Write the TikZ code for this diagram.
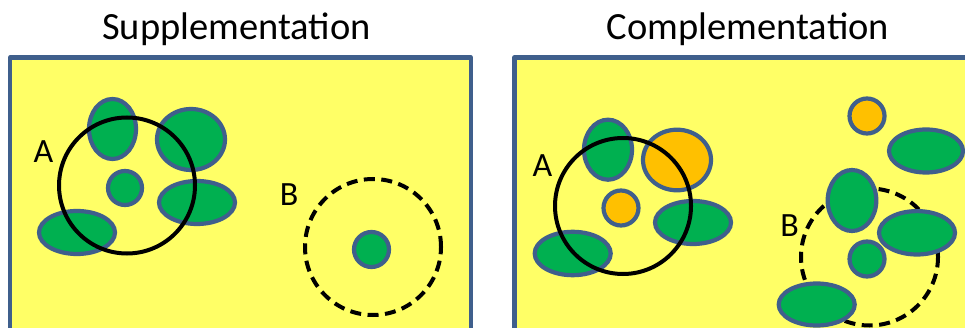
\documentclass[tikz,border=0pt]{standalone}
\usepackage{fontspec}
\setmainfont{Carlito}
\definecolor{panelfill}{HTML}{FFFF66}
\definecolor{panelline}{HTML}{3F5F8C}
\definecolor{blobgreen}{HTML}{00B050}
\definecolor{bloborange}{HTML}{FFC000}
\tikzset{
  panel/.style={fill=panelfill, draw=panelline, line width=4.2pt, line join=round},
  gblob/.style={fill=blobgreen, draw=panelline, line width=4.2pt},
  oblob/.style={fill=bloborange, draw=panelline, line width=4.2pt},
  solidring/.style={draw=black, line width=4pt},
  dashring/.style={draw=black, line width=4pt, dash pattern=on 11pt off 6.5pt},
  titletext/.style={font=\fontsize{38.5}{40}\selectfont, anchor=base, inner sep=0pt},
  labeltext/.style={font=\fontsize{34}{36}\selectfont, anchor=base, inner sep=0pt}
}
\begin{document}
\begin{tikzpicture}[x=1pt,y=-1pt]
\useasboundingbox (0,0) rectangle (965,328);
\clip (0,0) rectangle (965,328);
% titles
\node[titletext] (t1) at (236.5,39.5) {Supplementation};
\node[titletext] (t2) at (748,39.5) {Complementation};
% panels
\draw[panel] (10,57.5) rectangle (471,345);
\draw[panel] (514.5,57.5) rectangle (985,345);
% left panel
\draw[gblob] (112.5,129) ellipse [x radius=23.5pt, y radius=30pt];
\draw[gblob] (191,139.5) ellipse [x radius=34pt, y radius=30.5pt];
\draw[gblob] (125,188) circle [radius=17pt];
\draw[gblob] (197,202.5) ellipse [x radius=38pt, y radius=21.5pt];
\draw[gblob] (77,232.5) ellipse [x radius=38pt, y radius=21.5pt];
\draw[solidring] (127,185.5) circle [radius=68pt];
\draw[dashring] (373,247) circle [radius=68pt];
\draw[gblob] (371.5,249.5) circle [radius=17.5pt];
\node[labeltext] (la1) at (43.5,162.7) {A};
\node[labeltext] (lb1) at (289,206) {B};
% right panel
\draw[dashring] (869.5,257) circle [radius=68.5pt];
\draw[oblob] (867,116) circle [radius=17.5pt];
\draw[gblob] (926,151) ellipse [x radius=37pt, y radius=21.5pt];
\draw[gblob] (608,149.7) ellipse [x radius=24pt, y radius=30pt];
\draw[oblob] (677,160) ellipse [x radius=34pt, y radius=30.3pt];
\draw[oblob] (621,208) circle [radius=17.5pt];
\draw[gblob] (693,222.5) ellipse [x radius=38pt, y radius=21.5pt];
\draw[gblob] (572.7,253.5) ellipse [x radius=38pt, y radius=21.7pt];
\draw[solidring] (623,206) circle [radius=68pt];
\draw[gblob] (852,200.5) ellipse [x radius=24.3pt, y radius=30.5pt];
\draw[gblob] (917,232.8) ellipse [x radius=38pt, y radius=21.7pt];
\draw[gblob] (867,259) circle [radius=17.5pt];
\draw[gblob] (816.7,304.5) ellipse [x radius=38pt, y radius=21pt];
\node[labeltext] (la2) at (542.5,176.7) {A};
\node[labeltext] (lb2) at (789.5,237) {B};
\end{tikzpicture}
\end{document}
